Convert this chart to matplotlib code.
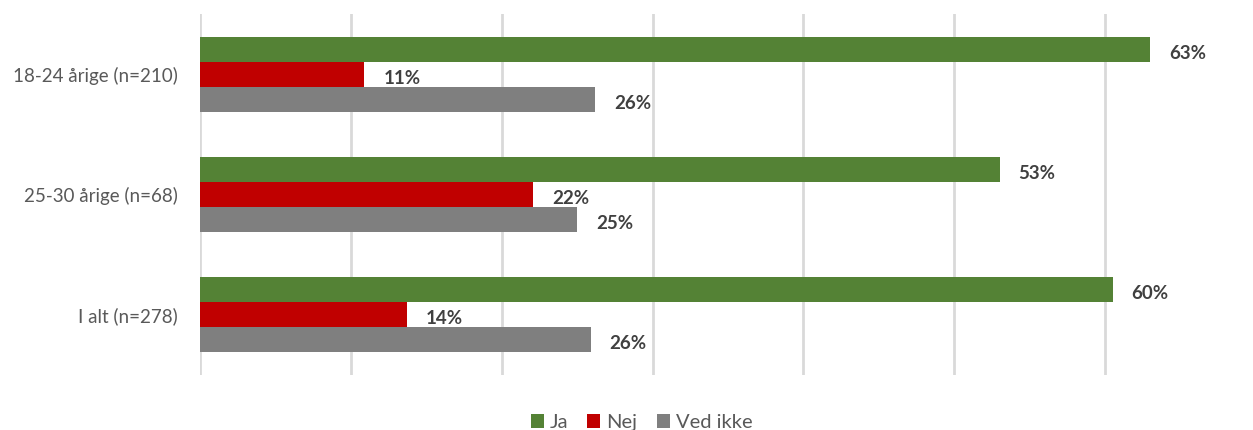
import matplotlib.pyplot as plt
import numpy as np

plt.rcParams["font.family"] = ["Lato", "DejaVu Sans"]

categories = ["18-24 årige (n=210)", "25-30 årige (n=68)", "I alt (n=278)"]
series = ["Ja", "Nej", "Ved ikke"]
ja = [0.63, 0.53, 0.605]
nej = [0.109, 0.221, 0.137]
ved_ikke = [0.262, 0.25, 0.259]
labels = [["63%", "53%", "60%"], ["11%", "22%", "14%"], ["26%", "25%", "26%"]]
colors = ["#548235", "#C00000", "#7F7F7F"]

fig = plt.figure(figsize=(12.53, 4.30), dpi=100)
ax = fig.add_axes([200 / 1253, 55 / 430, 1056 / 1253, 361 / 430])

y = np.arange(len(categories))
h = 25 / 120
for i, (vals, name) in enumerate(zip([ja, nej, ved_ikke], series)):
    pos = y + (i - 1) * h
    ax.barh(pos, vals, height=h, color=colors[i], label=name, zorder=3)
    for p, v, lab in zip(pos, vals, labels[i]):
        ax.annotate(lab, (v, p), xytext=(19, -4), textcoords="offset pixels",
                    va="center", ha="left", fontsize=13.5, fontweight="bold", color="#404040")

ax.set_ylim(len(categories) - 0.5, -0.5)
ax.set_xlim(0, 0.7)
ax.set_yticks(y)
ax.set_yticklabels(categories, fontsize=13.5, color="#595959")
ax.set_xticks(np.arange(0, 0.61, 0.1))
ax.set_xticklabels([])
ax.tick_params(length=0, pad=16)
ax.grid(axis="x", color="#D9D9D9", linewidth=2, zorder=0)
for s in ax.spines.values():
    s.set_visible(False)

fig.legend(loc="lower center", ncol=3, frameon=False, bbox_to_anchor=(0.512, -0.045),
           fontsize=14.5, labelcolor="#595959", handlelength=0.65, handleheight=0.65,
           handletextpad=0.3, columnspacing=0.95)

fig.savefig("out.png", dpi=100)
